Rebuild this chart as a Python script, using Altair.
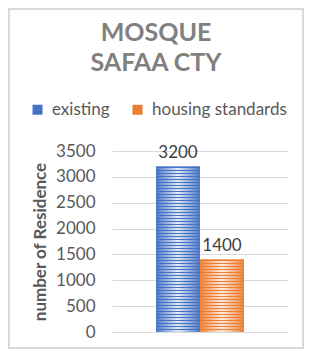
import altair as alt
import pandas as pd

# ---- data ----
series = ["existing", "housing standards"]
values = [3200, 1400]
colors = ["#4472C4", "#ED7D31"]
y_ticks = [0, 500, 1000, 1500, 2000, 2500, 3000, 3500]
title_lines = ["MOSQUE", "SAFAA CTY"]
y_title = "number of Residence"

df = pd.DataFrame({"series": series, "value": values})

FONT = "Lato"
W, H = 176, 181
YMAX = 3500


def stripe_gradient(color, n):
    stops = []
    for i in range(n):
        a = i / n
        m = (i + 0.45) / n
        b = (i + 1) / n
        stops += [
            {"offset": a, "color": color},
            {"offset": m, "color": color},
            {"offset": m, "color": "rgba(255,255,255,0)"},
            {"offset": b, "color": "rgba(255,255,255,0)"},
        ]
    return {"gradient": "linear", "x1": 0, "y1": 0, "x2": 0, "y2": 1, "stops": stops}


highlight = {
    "gradient": "linear", "x1": 0, "y1": 0, "x2": 1, "y2": 0,
    "stops": [
        {"offset": 0, "color": "rgba(255,255,255,0.05)"},
        {"offset": 0.5, "color": "rgba(255,255,255,0.85)"},
        {"offset": 1, "color": "rgba(255,255,255,0.05)"},
    ],
}

x_enc = alt.X("series:N", scale=alt.Scale(domain=series, paddingInner=0, paddingOuter=1), axis=None)
y_enc = alt.Y(
    "value:Q",
    scale=alt.Scale(domain=[0, YMAX]),
    axis=alt.Axis(
        values=y_ticks, format="d", title=y_title, grid=True, gridColor="#d9d9d9", gridWidth=1,
        domain=False, ticks=False, tickSize=0, labelPadding=17, labelFontSize=17,
        labelFont=FONT, labelColor="#595959", titleFont=FONT, titleFontSize=17,
        titleFontWeight="bold", titleColor="#595959", titlePadding=6,
    ),
)

base = alt.Chart(df)

bars = base.mark_bar().encode(
    x=x_enc,
    y=y_enc,
    color=alt.Color(
        "series:N",
        scale=alt.Scale(domain=series, range=colors),
        legend=alt.Legend(
            title=None, orient="none", direction="horizontal", legendX=-83, legendY=-50,
            symbolType="square", symbolSize=100, symbolStrokeWidth=0, labelFont=FONT,
            labelFontSize=17, labelColor="#595959", columnPadding=19, labelOffset=6,
        ),
    ),
)

glow = base.mark_bar(fill=highlight).encode(x=x_enc, y=y_enc)

stripe_layers = []
for s, v, c in zip(series, values, colors):
    n = max(1, round(v / YMAX * H / 3))
    stripe_layers.append(
        base.transform_filter(alt.datum.series == s)
        .mark_bar(fill=stripe_gradient(c, n))
        .encode(x=x_enc, y=y_enc)
    )

labels = base.mark_text(dy=-14, fontSize=17, font=FONT, color="#404040").encode(
    x=x_enc, y=y_enc, text="value:Q"
)

frame = alt.Chart(pd.DataFrame({"f": [0]})).mark_rect(
    fillOpacity=0, stroke="#d9d9d9", strokeWidth=2
).encode(x=alt.value(-103), x2=alt.value(W + 15), y=alt.value(-142), y2=alt.value(H + 16))

chart = alt.layer(frame, bars, glow, *stripe_layers, labels).properties(
    width=W,
    height=H,
    title=alt.TitleParams(
        title_lines, anchor="middle", frame="group", dx=-44, fontSize=25, font=FONT,
        fontWeight="bold", color="#808080", lineHeight=30, offset=-88,
        baseline="alphabetic",
    ),
    autosize=alt.AutoSizeParams(type="none"),
    padding={"left": 104, "top": 143, "right": 16, "bottom": 17},
).configure_view(stroke=None)

chart.save("out.html", embed_options={"renderer": "svg", "actions": False})
